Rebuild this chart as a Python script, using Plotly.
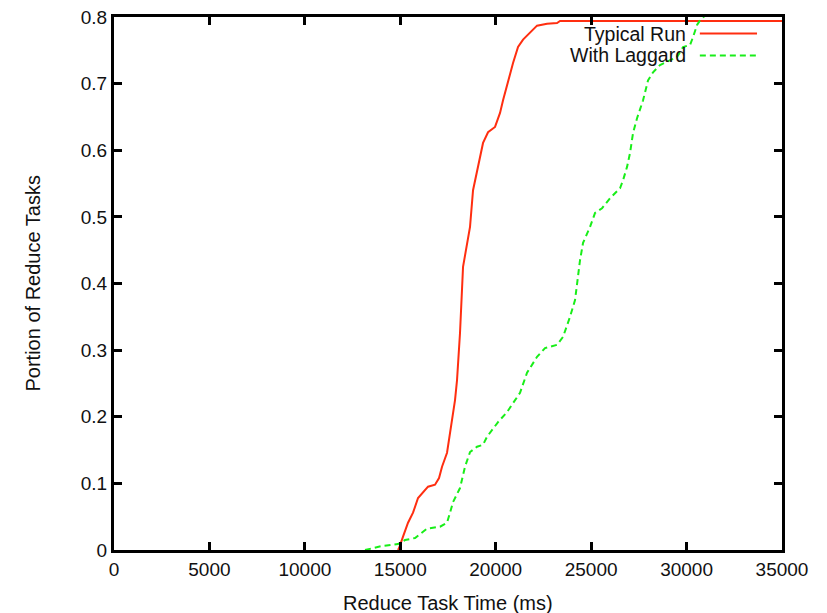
import plotly.graph_objects as go

# Cumulative distribution of reduce task completion times
typical_ms = [14880, 14934, 15144, 15406, 15668, 15930, 16454, 16820, 17030, 17187,
              17449, 17606, 17764, 17868, 17973, 18130, 18288, 18654, 18812, 19074,
              19336, 19598, 19964, 20226, 20384, 20908, 21170, 21432, 21956, 22165,
              22689, 23213, 23370, 35000]
typical_frac = [0.000, 0.003, 0.020, 0.041, 0.056, 0.078, 0.095, 0.098, 0.108, 0.125,
                0.146, 0.176, 0.200, 0.225, 0.255, 0.326, 0.425, 0.485, 0.540, 0.575,
                0.611, 0.627, 0.635, 0.656, 0.675, 0.731, 0.755, 0.766, 0.781, 0.787,
                0.790, 0.791, 0.794, 0.794]

laggard_ms = [13152, 14043, 14882, 15248, 15772, 16401, 17082, 17449, 17606, 17764,
              18130, 18392, 18654, 19021, 19336, 19545, 19860, 20122, 20593, 20908,
              21274, 21641, 22165, 22584, 23213, 23528, 23894, 24156, 24314, 24418,
              24576, 24942, 25204, 25571, 25990, 26514, 26672, 26881, 27038, 27196,
              27405, 27720, 27982, 28244, 28610, 29134, 29501, 29816, 30182, 30340,
              30549, 30706, 31073]
laggard_frac = [0.000, 0.006, 0.009, 0.015, 0.018, 0.032, 0.035, 0.041, 0.056, 0.072,
                0.093, 0.125, 0.147, 0.155, 0.158, 0.170, 0.182, 0.192, 0.207, 0.221,
                0.236, 0.266, 0.290, 0.303, 0.308, 0.320, 0.350, 0.375, 0.410, 0.435,
                0.461, 0.485, 0.506, 0.513, 0.528, 0.543, 0.555, 0.575, 0.596, 0.626,
                0.648, 0.675, 0.705, 0.717, 0.728, 0.735, 0.740, 0.755, 0.758, 0.770,
                0.788, 0.795, 0.805]

x_ticks = [0, 5000, 10000, 15000, 20000, 25000, 30000, 35000]
y_ticks = [0, 0.1, 0.2, 0.3, 0.4, 0.5, 0.6, 0.7, 0.8]

series_names = ["Typical Run", "With Laggard"]
x_title = "Reduce Task Time (ms)"
y_title = "Portion of Reduce Tasks"
red = "#ff2e10"
green = "#18ee18"
FONT = "Liberation Sans"
TEXT = "#111111"

fig = go.Figure()
fig.add_trace(go.Scatter(x=typical_ms, y=typical_frac, mode="lines",
                         line=dict(color=red, width=2), name=series_names[0],
                         showlegend=False))
fig.add_trace(go.Scatter(x=laggard_ms, y=laggard_frac, mode="lines",
                         line=dict(color=green, width=2, dash="6px,4px"),
                         name=series_names[1], showlegend=False))

# Key drawn in the top-right corner: label on the left, line sample on the right
key_rows = [(series_names[0], red, "solid", 0.969),
            (series_names[1], green, "6px,4px", 0.928)]
for label, color, dash, yp in key_rows:
    fig.add_annotation(x=0.858, y=yp, xref="paper", yref="paper", text=label,
                       showarrow=False, xanchor="right", yanchor="middle",
                       borderpad=0,
                       font=dict(family=FONT, size=19.5, color=TEXT))
    fig.add_shape(type="line", xref="paper", yref="paper", x0=0.877, x1=0.9626,
                  y0=yp, y1=yp, line=dict(color=color, width=2, dash=dash))

# Axis titles placed in the margins so the frame keeps its size
fig.add_annotation(x=0.5, y=0, xref="paper", yref="paper", text=x_title,
                   showarrow=False, xanchor="center", yanchor="middle",
                   yshift=-53, font=dict(family=FONT, size=20, color=TEXT))
fig.add_annotation(x=0, y=0.5, xref="paper", yref="paper", text=y_title,
                   showarrow=False, xanchor="center", yanchor="middle",
                   textangle=-90, xshift=-82,
                   font=dict(family=FONT, size=20, color=TEXT))

axis_common = dict(
    showline=True, linecolor="black", linewidth=3, mirror="ticks",
    ticks="inside", ticklen=8, tickwidth=2.5, tickcolor="black",
    showgrid=False, zeroline=False, automargin=False,
    tickfont=dict(family=FONT, size=19, color=TEXT),
)

fig.update_layout(
    width=827, height=613,
    margin=dict(l=114, r=45, t=17, b=63),
    paper_bgcolor="white", plot_bgcolor="white",
    xaxis=dict(range=[0, 35000], tickvals=x_ticks,
               ticktext=[str(v) for v in x_ticks], **axis_common),
    yaxis=dict(range=[0, 0.8], tickvals=y_ticks,
               ticktext=["0" if v == 0 else f"{v:.1f}" for v in y_ticks],
               **axis_common),
)

fig.write_html("out.html")
